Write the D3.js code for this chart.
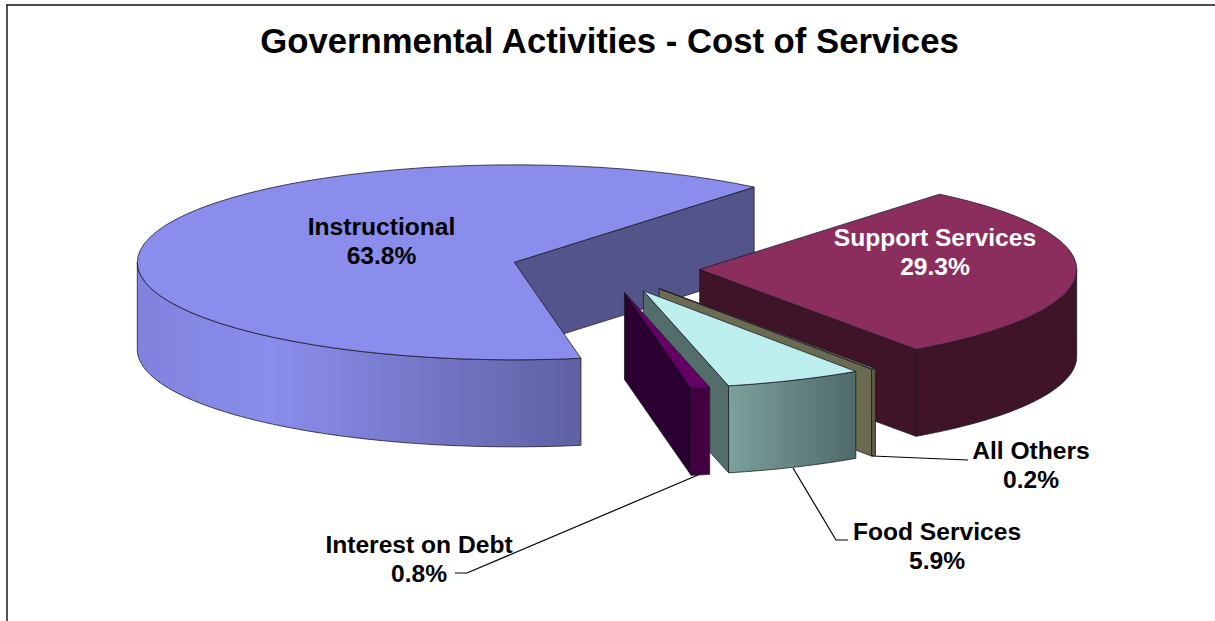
<!DOCTYPE html>
<html>
<head>
<meta charset="utf-8">
<script src="https://cdn.jsdelivr.net/npm/d3@7"></script>
<style>
	html, body { margin: 0; padding: 0; background: #fff; overflow: hidden; }
	text { font-family: "Liberation Sans", Arial, sans-serif; font-weight: bold; }
</style>
</head>
<body>
<div id="chart"></div>
<script>
// Data
const categories = ['Support Services', 'All Others', 'Food Services', 'Interest on Debt', 'Instructional'];
const shares = [29.3, 0.2, 5.9, 0.8, 63.8];
const title = 'Governmental Activities - Cost of Services';

// Colours per slice, same order as categories
const topColors = ['#8b2e5e', '#6f6f56', '#bceeee', '#660066', '#8b8dec'];
const wallColors = ['#3e1426', '#6b6b52', '#536e6a', '#2a0030', '#53548a'];
const rimStops = [
	[['0%', '#3e1426'], ['100%', '#3e1426']],
	[['0%', '#5c5c46'], ['100%', '#5c5c46']],
	[['0%', '#7ca09c'], ['100%', '#4f6a68']],
	[['0%', '#420040'], ['100%', '#420040']],
	[['0%', '#8082dd'], ['30%', '#8b8dec'], ['100%', '#5f61a3']]
];
// Back to front
const drawOrder = [4, 0, 1, 2, 3];

// Labels: lines, centre x, first baseline, colour
const labels = [
	{ lines: ['Instructional', '63.8%'], x: 381.5, y: 235, color: '#000' },
	{ lines: ['Support Services', '29.3%'], x: 935, y: 246, color: '#fff' },
	{ lines: ['All Others', '0.2%'], x: 1031, y: 459, color: '#000' },
	{ lines: ['Food Services', '5.9%'], x: 937, y: 540, color: '#000' },
	{ lines: ['Interest on Debt', '0.8%'], x: 419, y: 553, color: '#000' }
];
const leaders = [
	[[872, 456], [968, 460]],
	[[793, 468], [836, 540], [848, 540]],
	[[698, 475], [467, 573], [455, 573]]
];

const width = 1215, height = 621;
const center = { x: 605.5, y: 268.5 };
const rx = 377, ry = 97.5, depth = 87, explode = 0.25;
const startDeg = 39.5;
const rad = Math.PI / 180;

const svg = d3.select('#chart').append('svg')
	.attr('width', width)
	.attr('height', height)
	.style('display', 'block');

// Frame runs off the right and bottom of the picture
svg.append('path').attr('d', `M7,${height}V5`).attr('fill', 'none').attr('stroke', '#555').attr('stroke-width', 2);
svg.append('path').attr('d', `M6,5H${width}`).attr('fill', 'none').attr('stroke', '#111').attr('stroke-width', 1.5);

svg.append('text')
	.attr('x', 609.5)
	.attr('y', 53)
	.attr('text-anchor', 'middle')
	.attr('font-size', 34.7)
	.text(title);

const pie = d3.pie().sort(null)
	.startAngle(startDeg * rad)
	.endAngle(startDeg * rad + 2 * Math.PI);
const arcs = pie(shares);

const line = d3.line();
const defs = svg.append('defs');

drawOrder.forEach(i => {
	const a = arcs[i];
	const mid = (a.startAngle + a.endAngle) / 2;
	const apex = [
		center.x + explode * rx * Math.sin(mid),
		center.y - explode * ry * Math.cos(mid)
	];
	const project = t => [apex[0] + rx * Math.sin(t), apex[1] - ry * Math.cos(t)];
	const down = p => [p[0], p[1] + depth];
	const sample = (t0, t1) => d3.range(0, 61).map(k => project(t0 + (t1 - t0) * k / 60));

	const g = svg.append('g').attr('class', 'slice')
		.attr('stroke', '#1c1c2a')
		.attr('stroke-width', 0.8)
		.attr('stroke-linejoin', 'round');

	// Cut face
	if (Math.sin(a.endAngle) > 0) {
		const tip = project(a.endAngle);
		g.append('path')
			.attr('d', line([apex, tip, down(tip), down(apex)]) + 'Z')
			.attr('fill', wallColors[i]);
	}

	// Outer rim, only the part that faces the viewer
	const r0 = Math.max(a.startAngle, 90 * rad);
	const r1 = Math.min(a.endAngle, 270 * rad);
	if (r1 > r0) {
		const rim = sample(r0, r1);
		const xs = d3.extent(rim, d => d[0]);
		const gradient = defs.append('linearGradient')
			.attr('id', `rim-${i}`)
			.attr('gradientUnits', 'userSpaceOnUse')
			.attr('x1', xs[0]).attr('x2', xs[1])
			.attr('y1', 0).attr('y2', 0);
		gradient.selectAll('stop')
			.data(rimStops[i])
			.join('stop')
			.attr('offset', d => d[0])
			.attr('stop-color', d => d[1]);
		g.append('path')
			.attr('d', line(rim.concat(rim.map(down).reverse())) + 'Z')
			.attr('fill', `url(#rim-${i})`);
	}

	// Top face
	g.append('path')
		.attr('d', line([apex].concat(sample(a.startAngle, a.endAngle))) + 'Z')
		.attr('fill', topColors[i]);
});

svg.append('g').selectAll('path')
	.data(leaders)
	.join('path')
	.attr('d', d => line(d))
	.attr('fill', 'none')
	.attr('stroke', '#000')
	.attr('stroke-width', 1.2);

const labelGroup = svg.append('g').selectAll('text')
	.data(labels)
	.join('text')
	.attr('text-anchor', 'middle')
	.attr('font-size', 24.6)
	.attr('fill', d => d.color);
labelGroup.selectAll('tspan')
	.data(d => d.lines.map((t, k) => ({ t, k, x: d.x, y: d.y })))
	.join('tspan')
	.attr('x', d => d.x)
	.attr('y', d => d.y + d.k * 28.5)
	.text(d => d.t);
</script>
</body>
</html>
